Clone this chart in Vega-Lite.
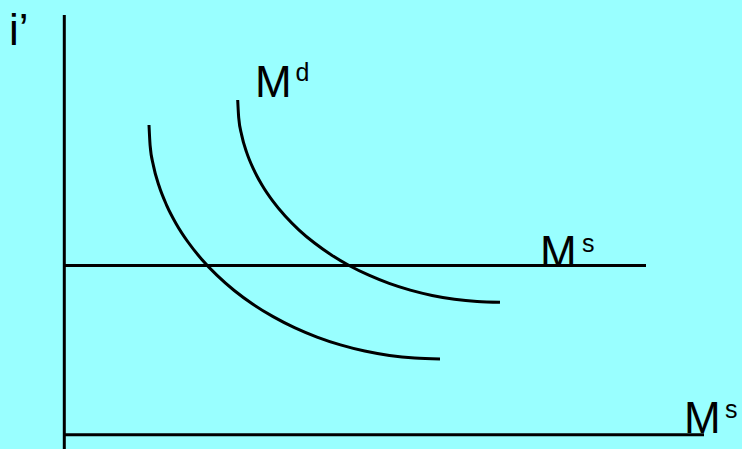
{
  "$schema": "https://vega.github.io/schema/vega-lite/v6.json",
  "width": 742,
  "height": 449,
  "autosize": {"type": "none"},
  "padding": 0,
  "background": "#99FFFF",
  "config": {"view": {"stroke": null}},
  "datasets": {
    "curves": [
      {"curve": "Md1", "q": 85, "p": 310},
      {"curve": "Md1", "q": 86.11, "p": 289.6},
      {"curve": "Md1", "q": 89.42, "p": 269.37},
      {"curve": "Md1", "q": 94.91, "p": 249.44},
      {"curve": "Md1", "q": 102.55, "p": 229.97},
      {"curve": "Md1", "q": 112.26, "p": 211.11},
      {"curve": "Md1", "q": 123.99, "p": 193},
      {"curve": "Md1", "q": 137.63, "p": 175.78},
      {"curve": "Md1", "q": 153.08, "p": 159.59},
      {"curve": "Md1", "q": 170.23, "p": 144.54},
      {"curve": "Md1", "q": 188.95, "p": 130.75},
      {"curve": "Md1", "q": 209.09, "p": 118.32},
      {"curve": "Md1", "q": 230.5, "p": 107.35},
      {"curve": "Md1", "q": 253.02, "p": 97.92},
      {"curve": "Md1", "q": 276.47, "p": 90.11},
      {"curve": "Md1", "q": 300.68, "p": 83.97},
      {"curve": "Md1", "q": 325.47, "p": 79.55},
      {"curve": "Md1", "q": 350.64, "p": 76.89},
      {"curve": "Md1", "q": 376, "p": 76},
      {"curve": "Md2", "q": 173.7, "p": 335},
      {"curve": "Md2", "q": 174.7, "p": 317.37},
      {"curve": "Md2", "q": 177.69, "p": 299.87},
      {"curve": "Md2", "q": 182.64, "p": 282.64},
      {"curve": "Md2", "q": 189.52, "p": 265.81},
      {"curve": "Md2", "q": 198.27, "p": 249.5},
      {"curve": "Md2", "q": 208.84, "p": 233.85},
      {"curve": "Md2", "q": 221.14, "p": 218.97},
      {"curve": "Md2", "q": 235.07, "p": 204.96},
      {"curve": "Md2", "q": 250.53, "p": 191.95},
      {"curve": "Md2", "q": 267.4, "p": 180.03},
      {"curve": "Md2", "q": 285.55, "p": 169.29},
      {"curve": "Md2", "q": 304.85, "p": 159.8},
      {"curve": "Md2", "q": 325.15, "p": 151.65},
      {"curve": "Md2", "q": 346.29, "p": 144.9},
      {"curve": "Md2", "q": 368.11, "p": 139.59},
      {"curve": "Md2", "q": 390.45, "p": 135.77},
      {"curve": "Md2", "q": 413.14, "p": 133.47},
      {"curve": "Md2", "q": 436, "p": 132.7}
    ],
    "lines": [
      {"name": "i axis", "q1": 0.3, "p1": -14, "q2": 0.3, "p2": 420},
      {"name": "M axis", "q1": 0, "p1": 0.3, "q2": 640, "p2": 0.3},
      {"name": "Ms", "q1": 0, "p1": 169.5, "q2": 582, "p2": 169.5}
    ],
    "bigText": [
      {"label": "i’", "q": -55, "p": 390},
      {"label": "M", "q": 191, "p": 338},
      {"label": "M", "q": 476, "p": 168},
      {"label": "M", "q": 620, "p": 2}
    ],
    "smallText": [
      {"label": "d", "q": 231.5, "p": 354.3},
      {"label": "s", "q": 518, "p": 183.3},
      {"label": "s", "q": 661, "p": 16.7}
    ]
  },
  "layer": [
    {
      "data": {"name": "lines"},
      "mark": {"type": "rule", "color": "#000000", "strokeWidth": 3},
      "encoding": {
        "x": {"field": "q1", "type": "quantitative", "scale": {"domain": [-64, 678], "nice": false, "zero": false}, "axis": null},
        "y": {"field": "p1", "type": "quantitative", "scale": {"domain": [-14, 435], "nice": false, "zero": false}, "axis": null},
        "x2": {"field": "q2"},
        "y2": {"field": "p2"}
      }
    },
    {
      "data": {"name": "curves"},
      "mark": {"type": "line", "color": "#000000", "strokeWidth": 3, "interpolate": "monotone"},
      "encoding": {
        "x": {"field": "q", "type": "quantitative"},
        "y": {"field": "p", "type": "quantitative"},
        "detail": {"field": "curve"}
      }
    },
    {
      "data": {"name": "bigText"},
      "mark": {"type": "text", "font": "Liberation Sans", "fontSize": 44, "align": "left", "baseline": "alphabetic", "color": "#000000"},
      "encoding": {
        "x": {"field": "q", "type": "quantitative"},
        "y": {"field": "p", "type": "quantitative"},
        "text": {"field": "label"}
      }
    },
    {
      "data": {"name": "smallText"},
      "mark": {"type": "text", "font": "Liberation Sans", "fontSize": 25, "align": "left", "baseline": "alphabetic", "color": "#000000"},
      "encoding": {
        "x": {"field": "q", "type": "quantitative"},
        "y": {"field": "p", "type": "quantitative"},
        "text": {"field": "label"}
      }
    }
  ]
}
